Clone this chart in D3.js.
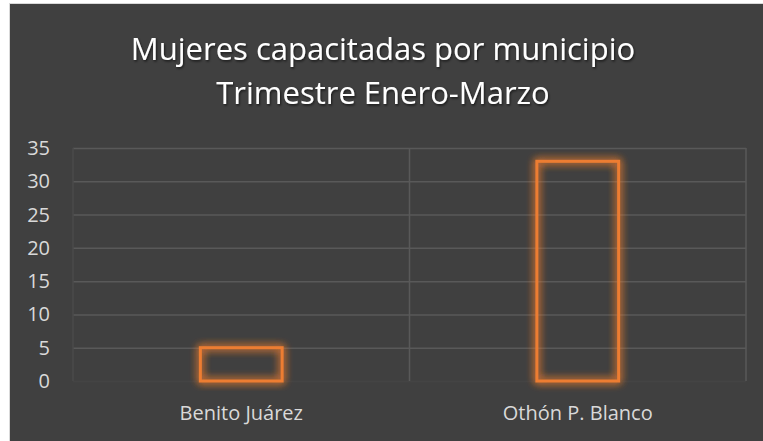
<!DOCTYPE html>
<html>
<head>
<meta charset="utf-8">
<script src="https://cdn.jsdelivr.net/npm/d3@7"></script>
<style>
  body { margin: 0; background: #ffffff; }
  text { font-family: "Open Sans", sans-serif; }
</style>
</head>
<body>
<div id="chart"></div>
<script>
// data
var categories = ["Benito Juárez", "Othón P. Blanco"];
var values = [5, 33];
var yTicks = [0, 5, 10, 15, 20, 25, 30, 35];
var titleLines = ["Mujeres capacitadas por municipio", "Trimestre Enero-Marzo"];

var W = 763, H = 441;
var margin = { top: 148, right: 17, bottom: 60, left: 73 },
  width = W - margin.left - margin.right,
  height = H - margin.top - margin.bottom;

var svg = d3.select("#chart")
  .append("svg")
  .attr("width", W)
  .attr("height", H);

// glow for the bars
var defs = svg.append("defs");
var f = defs.append("filter").attr("id", "glow")
  .attr("x", "-30%").attr("y", "-30%").attr("width", "160%").attr("height", "160%");
f.append("feGaussianBlur").attr("in", "SourceGraphic").attr("stdDeviation", 4.5).attr("result", "b");
var m = f.append("feMerge");
m.append("feMergeNode").attr("in", "b");
m.append("feMergeNode").attr("in", "b");
m.append("feMergeNode").attr("in", "SourceGraphic");

var shadow = defs.append("filter").attr("id", "tshadow");
shadow.append("feDropShadow").attr("dx", 1).attr("dy", 1.5).attr("stdDeviation", 1.2)
  .attr("flood-color", "#000").attr("flood-opacity", 0.6);

// chart area background
svg.append("rect")
  .attr("x", 9.5).attr("y", 3.5)
  .attr("width", W).attr("height", H)
  .style("fill", "#404040")
  .style("stroke", "#d9d9d9")
  .style("stroke-width", 1);

// title
svg.append("g")
  .selectAll("text")
  .data(titleLines)
  .enter()
  .append("text")
  .attr("x", 383)
  .attr("y", function (d, i) { return 60 + i * 44 })
  .attr("text-anchor", "middle")
  .attr("filter", "url(#tshadow)")
  .style("font-size", "31px")
  .style("fill", "#ffffff")
  .text(function (d) { return d });

var g = svg.append("g")
  .attr("transform", "translate(" + margin.left + "," + margin.top + ")");

var x = d3.scaleBand()
  .domain(categories)
  .range([0, width])
  .padding(0);

var y = d3.scaleLinear()
  .domain([0, 35])
  .range([height, 0]);

// horizontal gridlines
g.append("g")
  .call(d3.axisLeft(y).tickValues(yTicks).tickSize(-width).tickFormat(""))
  .call(function (a) { a.select(".domain").remove() })
  .selectAll(".tick line")
  .attr("stroke", function (d) { return d === 0 ? "#444444" : "#595959" })
  .attr("stroke-width", 1.5);

// vertical gridlines between categories
var edges = [0].concat(categories.map(function (c) { return x(c) + x.bandwidth() }));
g.append("g")
  .selectAll("line")
  .data(edges)
  .enter()
  .append("line")
  .attr("x1", function (d) { return d }).attr("x2", function (d) { return d })
  .attr("y1", 0).attr("y2", height)
  .attr("stroke", function (d, i) { return i === 0 ? "#4a4a4a" : "#595959" })
  .attr("stroke-width", 1.5);

// y tick labels
g.append("g")
  .selectAll("text")
  .data(yTicks)
  .enter()
  .append("text")
  .attr("x", -23)
  .attr("y", function (d) { return y(d) })
  .attr("dy", "0.35em")
  .attr("text-anchor", "end")
  .style("font-size", "20px")
  .style("fill", "#d9d9d9")
  .text(function (d) { return d });

// category labels
g.append("g")
  .selectAll("text")
  .data(categories)
  .enter()
  .append("text")
  .attr("x", function (d) { return x(d) + x.bandwidth() / 2 })
  .attr("y", height + 39)
  .attr("text-anchor", "middle")
  .style("font-size", "20px")
  .style("fill", "#d9d9d9")
  .text(function (d) { return d });

// bars (outlined, glowing)
var frac = 0.243;
g.append("g")
  .selectAll("rect")
  .data(values)
  .enter()
  .append("rect")
  .attr("x", function (d, i) { return x(categories[i]) + x.bandwidth() * (1 - frac) / 2 })
  .attr("y", function (d) { return y(d) })
  .attr("width", x.bandwidth() * frac)
  .attr("height", function (d) { return height - y(d) })
  .attr("filter", "url(#glow)")
  .style("fill", "none")
  .style("stroke", "#ed7d31")
  .style("stroke-width", 3);
</script>
</body>
</html>
